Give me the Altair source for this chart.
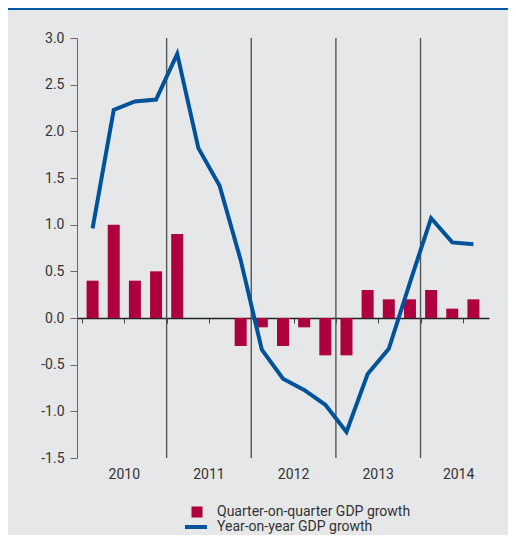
import altair as alt
import pandas as pd

# ---- data ----
quarters = ["2010 Q1", "2010 Q2", "2010 Q3", "2010 Q4",
            "2011 Q1", "2011 Q2", "2011 Q3", "2011 Q4",
            "2012 Q1", "2012 Q2", "2012 Q3", "2012 Q4",
            "2013 Q1", "2013 Q2", "2013 Q3", "2013 Q4",
            "2014 Q1", "2014 Q2", "2014 Q3"]
qoq_growth = [0.4, 1.0, 0.4, 0.5, 0.9, 0.0, 0.0, -0.3, -0.1, -0.3, -0.1, -0.4,
              -0.4, 0.3, 0.2, 0.2, 0.3, 0.1, 0.2]
yoy_growth = [0.96, 2.23, 2.32, 2.34, 2.83, 1.82, 1.42, 0.62, -0.34, -0.65, -0.77, -0.93,
              -1.22, -0.60, -0.33, 0.38, 1.07, 0.81, 0.79]
years = ["2010", "2011", "2012", "2013", "2014"]
year_label_pos = [1.5, 5.5, 9.5, 13.5, 17.3]   # in quarter-index units
year_breaks = [3.5, 7.5, 11.5, 15.5]
y_ticks = [-1.5, -1.0, -0.5, 0.0, 0.5, 1.0, 1.5, 2.0, 2.5, 3.0]

QOQ = "Quarter-on-quarter GDP growth"
YOY = "Year-on-year GDP growth"

df = pd.DataFrame({
    "i": list(range(len(quarters))),
    "quarter": quarters,
    "qoq": qoq_growth,
    "yoy": yoy_growth,
})
df["s_qoq"] = QOQ
df["s_yoy"] = YOY
years_df = pd.DataFrame({"year": years, "pos": year_label_pos})
breaks_df = pd.DataFrame({"b": year_breaks})

W, H = 412, 420
PAD = {"left": 69, "top": 30, "right": 19, "bottom": 77}
YMIN, YMAX = -1.5, 3.0
FONT = "Roboto"
TXT = "#333333"
BAR = "#ae003d"
LINE = "#00539b"
BG = "#e6e7e9"

xscale = alt.Scale(domain=[-0.5, len(quarters) - 0.5], nice=False, zero=False)
yscale = alt.Scale(domain=[YMIN, YMAX], nice=False, zero=False)

zero_offset = -H * (0 - YMIN) / (YMAX - YMIN)

x_axis = alt.Axis(values=[k - 0.5 for k in range(len(quarters) + 1)], labels=False,
                  title=None, grid=False, ticks=True, tickSize=5, tickColor="#444444",
                  domainColor="#222222", domainWidth=1.3, offset=zero_offset)
y_axis = alt.Axis(values=y_ticks, title=None, grid=False, tickSize=7, labelPadding=6,
                  tickColor="#666666", domainColor="#666666",
                  labelExpr="datum.value < 0 ? '-' + format(-datum.value, '.1f') : format(datum.value, '.1f')",
                  labelFont=FONT, labelFontSize=14, labelColor=TXT)

base = alt.Chart(df)

bars = base.mark_bar(size=12).encode(
    x=alt.X("i:Q", scale=xscale, axis=x_axis),
    y=alt.Y("qoq:Q", scale=yscale, axis=y_axis),
    fill=alt.Fill("s_qoq:N", scale=alt.Scale(domain=[QOQ], range=[BAR]),
                  legend=alt.Legend(orient="none", legendX=113, legendY=467, title=None,
                                    symbolType="square", symbolSize=121, symbolStrokeWidth=0,
                                    labelFont=FONT, labelFontSize=14, labelColor=TXT,
                                    labelOffset=13, labelLimit=0, padding=0)),
)

seps = alt.Chart(breaks_df).mark_rule(color="#555555", strokeWidth=1.4).encode(
    x=alt.X("b:Q", scale=xscale),
)

line = base.mark_line(strokeWidth=4).encode(
    x=alt.X("i:Q", scale=xscale),
    y=alt.Y("yoy:Q", scale=yscale),
    stroke=alt.Stroke("s_yoy:N", scale=alt.Scale(domain=[YOY], range=[LINE]),
                      legend=alt.Legend(orient="none", legendX=106, legendY=476, title=None,
                                        symbolType="stroke", symbolSize=484, symbolStrokeWidth=4,
                                        labelFont=FONT, labelFontSize=14, labelColor=TXT,
                                        labelOffset=8, labelLimit=0, padding=0)),
)

year_text = alt.Chart(years_df).mark_text(font=FONT, fontSize=14, color=TXT, dy=17,
                                          baseline="middle", align="center").encode(
    x=alt.X("pos:Q", scale=xscale),
    y=alt.datum(YMIN),
    text="year:N",
)

top_band = alt.Chart(breaks_df).mark_rect(color="#0059a5").encode(
    x=alt.value(-PAD["left"]), x2=alt.value(W + PAD["right"]),
    y=alt.value(-PAD["top"]), y2=alt.value(-PAD["top"] + 2),
)

chart = alt.layer(seps, bars, line, year_text, top_band).properties(
    width=W, height=H,
    autosize=alt.AutoSizeParams(type="none"),
    padding=PAD,
    background=BG,
).resolve_legend(fill="independent", stroke="independent").configure_view(stroke=None)

chart.save("out.html", embed_options={"renderer": "svg", "actions": False})
